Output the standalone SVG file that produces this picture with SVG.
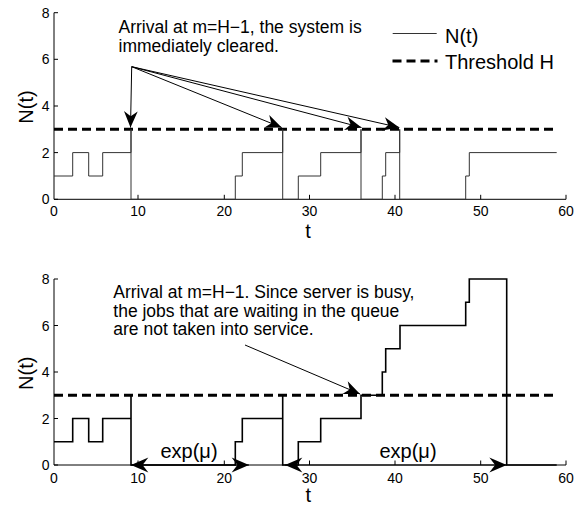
<svg xmlns="http://www.w3.org/2000/svg" width="588" height="506" viewBox="0 0 588 506">
<style>
text{font-family:"Liberation Sans",Arial,Helvetica,sans-serif;fill:#000}
.tick{font-size:14px;text-anchor:middle}
.ytick{font-size:14px;text-anchor:end}
.lab{font-size:20px;text-anchor:middle}
.ann{font-size:17.5px}
.leg{font-size:20px}
.axis{stroke:#000;stroke-width:1;fill:none}
.thr{stroke:#000;stroke-width:3;stroke-dasharray:9 5;fill:none}
.d1{stroke:#333;stroke-width:1;fill:none}
.d2{stroke:#000;stroke-width:1.6;fill:none}
.arr{stroke:#000;stroke-width:1;fill:none}
</style>
<defs>
<marker id="ah" markerUnits="userSpaceOnUse" markerWidth="20" markerHeight="20" refX="0" refY="0" viewBox="-14 -7 16 14" orient="auto">
<path d="M0,0 L-13,-5.5 L-9,0 L-13,5.5 Z" fill="#000"/>
</marker>
<marker id="ah2" markerUnits="userSpaceOnUse" markerWidth="22" markerHeight="22" refX="0" refY="0" viewBox="-17 -8 19 16" orient="auto-start-reverse">
<path d="M0,0 L-15,-6.5 L-10,0 L-15,6.5 Z" fill="#000"/>
</marker>
</defs>

<g id="top-plot">
<g id="top-axes">
<path class="axis" d="M54,12.7 V199.3 H566"/>
<path class="axis" d="M54,12.7 h4 M54,59.3 h4 M54,106 h4 M54,152.6 h4 M54,199.3 h4 M138,199.3 v-4.5 M224.3,199.3 v-4.5 M309.5,199.3 v-4.5 M395,199.3 v-4.5 M480.7,199.3 v-4.5 M566,199.3 v-4.5"/>
<text class="ytick" x="49.5" y="17.7">8</text>
<text class="ytick" x="49.5" y="64.3">6</text>
<text class="ytick" x="49.5" y="111">4</text>
<text class="ytick" x="49.5" y="157.6">2</text>
<text class="ytick" x="49.5" y="204.3">0</text>
<text class="tick" x="54" y="216">0</text>
<text class="tick" x="138" y="216">10</text>
<text class="tick" x="224.3" y="216">20</text>
<text class="tick" x="309.5" y="216">30</text>
<text class="tick" x="395" y="216">40</text>
<text class="tick" x="480.7" y="216">50</text>
<text class="tick" x="566" y="216">60</text>
<text class="lab" x="308" y="238">t</text>
<text class="lab" transform="translate(33.3,107) rotate(-90)">N(t)</text>
</g>
<path id="top-threshold" class="thr" d="M54,129.3 H557"/>
<path id="top-Nt" class="d1" d="M54,176 H72.7 V152.6 H88.7 V176 H102.7 V152.6 H131 V129.3 V199.3 H235.3 V176 H242.3 V152.6 H282.7 V129.3 V199.3 H298.3 V176 H320.7 V152.6 H361 V129.3 V199.3 H382.3 V176 H385.7 V152.6 H399.7 V129.3 V199.3 H465.7 V176 H469.3 V152.6 H556.7"/>
<g id="legend">
<path class="d1" d="M392.7,33.5 H436.7"/>
<text class="leg" x="445" y="43">N(t)</text>
<path class="thr" d="M392.5,61 H437.5" stroke-dasharray="8 6.5"/>
<text class="leg" x="445" y="69">Threshold H</text>
</g>
<g id="top-annotation">
<text class="ann" x="118.5" y="33">Arrival at m=H−1, the system is</text>
<text class="ann" x="118.5" y="52">immediately cleared.</text>
</g>
</g>

<g id="bottom-plot">
<g id="bottom-axes">
<path class="axis" d="M54,279 V465 H566"/>
<path class="axis" d="M54,279 h4 M54,325.5 h4 M54,372 h4 M54,418.5 h4 M54,465 h4 M138,465 v-4.5 M224.3,465 v-4.5 M309.5,465 v-4.5 M395,465 v-4.5 M480.7,465 v-4.5 M566,465 v-4.5"/>
<text class="ytick" x="49.5" y="284">8</text>
<text class="ytick" x="49.5" y="330.5">6</text>
<text class="ytick" x="49.5" y="377">4</text>
<text class="ytick" x="49.5" y="423.5">2</text>
<text class="ytick" x="49.5" y="470">0</text>
<text class="tick" x="54" y="483">0</text>
<text class="tick" x="138" y="483">10</text>
<text class="tick" x="224.3" y="483">20</text>
<text class="tick" x="309.5" y="483">30</text>
<text class="tick" x="395" y="483">40</text>
<text class="tick" x="480.7" y="483">50</text>
<text class="tick" x="566" y="483">60</text>
<text class="lab" x="308.3" y="502">t</text>
<text class="lab" transform="translate(33.3,373.3) rotate(-90)">N(t)</text>
</g>
<path id="bottom-threshold" class="thr" d="M54,395.25 H557"/>
<path id="bottom-Nt" class="d2" d="M54,441.75 H72.7 V418.5 H88.7 V441.75 H102.7 V418.5 H131 V395.25 V465 H235.3 V441.75 H242.3 V418.5 H282.7 V395.25 V465 H298.3 V441.75 H320.7 V418.5 H361 V395.25 H382.3 V372 H385.7 V348.75 H400 V325.5 H465.7 V302.25 H469.3 V279 H506.7 V465 H556.7"/>
<g id="bottom-annotation">
<text class="ann" x="113.3" y="298">Arrival at m=H−1. Since server is busy,</text>
<text class="ann" x="113.3" y="316.5">the jobs that are waiting in the queue</text>
<text class="ann" x="113.3" y="335">are not taken into service.</text>
</g>
<g id="exp-labels">
<text class="leg" x="189" y="458" text-anchor="middle">exp(μ)</text>
<text class="leg" x="408" y="458" text-anchor="middle">exp(μ)</text>
</g>
</g>

<g id="connectors">
<path class="arr" d="M131.7,66.7 L130.5,127.5" marker-end="url(#ah)"/>
<path class="arr" d="M131.7,66.7 L281.7,127.5" marker-end="url(#ah)"/>
<path class="arr" d="M131.7,66.7 L361.5,127.5" marker-end="url(#ah)"/>
<path class="arr" d="M131.7,66.7 L399.3,127.5" marker-end="url(#ah)"/>
<path class="arr" d="M245,345 L360,394" marker-end="url(#ah)"/>
<path class="arr" d="M131,465 H249" marker-start="url(#ah2)" marker-end="url(#ah2)"/>
<path class="arr" d="M285,465 H506.7" marker-start="url(#ah2)" marker-end="url(#ah2)"/>
</g>
</svg>
